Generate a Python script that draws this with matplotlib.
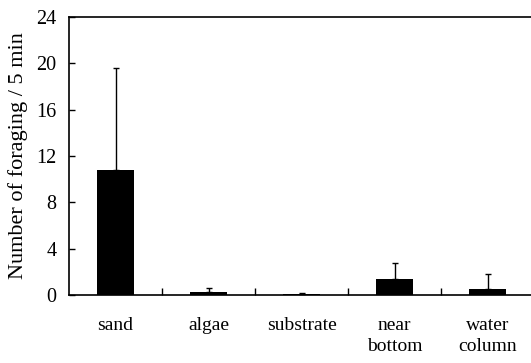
import matplotlib
matplotlib.use("Agg")
import matplotlib.pyplot as plt
import numpy as np

categories = ["sand", "algae", "substrate", "near\nbottom", "water\ncolumn"]
means = [10.75, 0.25, 0.05, 1.4, 0.55]
errors = [8.85, 0.35, 0.1, 1.35, 1.25]
yticks = [0, 4, 8, 12, 16, 20, 24]

plt.rcParams['font.family'] = ['Liberation Serif', 'DejaVu Serif']

fig = plt.figure(figsize=(5.31, 3.63), dpi=100)
ax = fig.add_axes([69/531, 1-295/363, (534-69)/531, (295-17)/363])

x = np.arange(len(categories))
ax.bar(x, means, width=0.4, color='black', zorder=2)
ax.errorbar(x, means, yerr=[np.zeros(len(errors)), errors], fmt='none',
            ecolor='black', elinewidth=1, capsize=2.5, capthick=1, zorder=1)

ax.set_xlim(-0.5, len(categories) - 0.5)
ax.set_ylim(0, 24)
ax.set_yticks(yticks)
ax.set_yticklabels([str(t) for t in yticks], fontsize=14.5)
ax.tick_params(axis='y', direction='in', length=4, width=1, pad=9)

ax.set_xticks(x)
ax.set_xticklabels(categories, fontsize=14, linespacing=1.3)
ax.tick_params(axis='x', length=0, pad=16)
ax.set_xticks(np.arange(0.5, len(categories) - 0.5, 1), minor=True)
ax.tick_params(axis='x', which='minor', direction='in', length=5, width=1)

ax.spines['right'].set_visible(False)
for s in ['left', 'bottom', 'top']:
    ax.spines[s].set_linewidth(1.2)

ax.set_ylabel("Number of foraging / 5 min", fontsize=16, labelpad=6)

fig.savefig("out.png", dpi=100)
